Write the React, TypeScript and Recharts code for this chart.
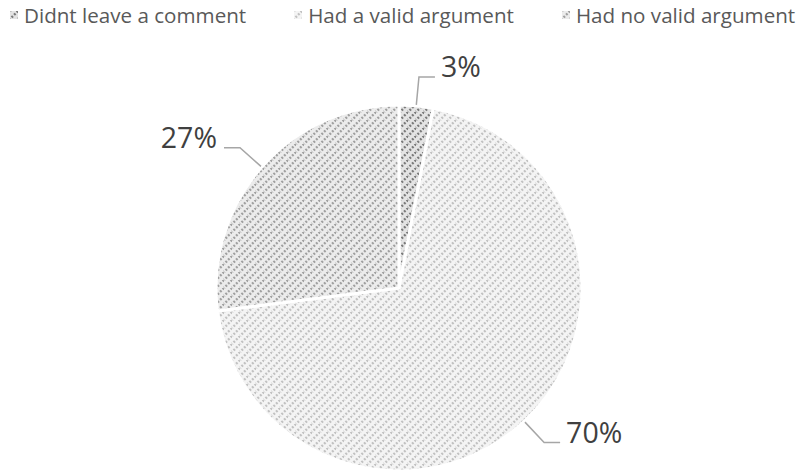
import { PieChart, Pie, Cell } from 'recharts'

const categories = ['Didnt leave a comment', 'Had a valid argument', 'Had no valid argument']
const shares = [3, 70, 27]

const data = categories.map((name, i) => ({ name, value: shares[i] }))

// stripe colour / background per slice
const patterns = [
  { id: 'hatch-dark', bg: '#e4e4e4', fg: '#7a7a7a' },
  { id: 'hatch-light', bg: '#f4f4f4', fg: '#c2c2c2' },
  { id: 'hatch-mid', bg: '#ececec', fg: '#a0a0a0' },
]

const RAD = Math.PI / 180

function renderLabel(props: any) {
  const { cx, cy, midAngle, outerRadius, value } = props
  const cos = Math.cos(-midAngle * RAD)
  const sin = Math.sin(-midAngle * RAD)
  const sx = cx + (outerRadius + 1) * cos
  const sy = cy + (outerRadius + 1) * sin
  const ex = cx + (outerRadius + 29) * cos
  const ey = cy + (outerRadius + 29) * sin
  const right = cos >= 0
  const hx = ex + (right ? 16 : -16)
  return (
    <g>
      <polyline
        points={`${sx},${sy} ${ex},${ey} ${hx},${ey}`}
        fill="none"
        stroke="#a6a6a6"
        strokeWidth={1.5}
      />
      <text
        x={hx + (right ? 6 : -7)}
        y={ey}
        textAnchor={right ? 'start' : 'end'}
        fill="#404040"
        fontSize={28.5}
        fontFamily="'Open Sans', sans-serif"
      >
        {`${value}%`}
      </text>
    </g>
  )
}

export default function App() {
  return (
    <div style={{ position: 'absolute', left: 0, top: 0, width: 805, height: 475, background: '#fff' }}>
      <PieChart width={805} height={475} margin={{ top: 0, right: 0, bottom: 0, left: 0 }}>
        <defs>
          {patterns.map((p) => (
            <pattern key={p.id} id={p.id} width={8} height={8} patternUnits="userSpaceOnUse">
              <rect width={8} height={8} fill={p.bg} />
              <path
                d="M-1,9 L9,-1 M-5,5 L5,-5 M3,13 L13,3"
                stroke={p.fg}
                strokeWidth={2.4}
                strokeDasharray="2 1.6"
              />
            </pattern>
          ))}
        </defs>
        <Pie
          data={data}
          dataKey="value"
          nameKey="name"
          cx={399}
          cy={288}
          outerRadius={183}
          startAngle={90}
          endAngle={-270}
          stroke="#ffffff"
          strokeWidth={3}
          label={renderLabel}
          labelLine={false}
          isAnimationActive={false}
        >
          {data.map((d, i) => (
            <Cell key={d.name} fill={`url(#${patterns[i].id})`} />
          ))}
        </Pie>
      </PieChart>
      <div
        style={{
          position: 'absolute',
          left: 10,
          top: 1,
          width: 795,
          display: 'flex',
          gap: 48,
          alignItems: 'center',
          whiteSpace: 'nowrap',
        }}
      >
        {categories.map((c, i) => (
          <div key={c} style={{ display: 'flex', alignItems: 'center', flexShrink: 0 }}>
            <svg width={8} height={8} style={{ marginRight: 6 }}>
              <rect width={8} height={8} fill={`url(#${patterns[i].id})`} />
            </svg>
            <span style={{ color: '#595959', fontSize: 20.6, fontFamily: "'Open Sans', sans-serif" }}>{c}</span>
          </div>
        ))}
      </div>
    </div>
  )
}
